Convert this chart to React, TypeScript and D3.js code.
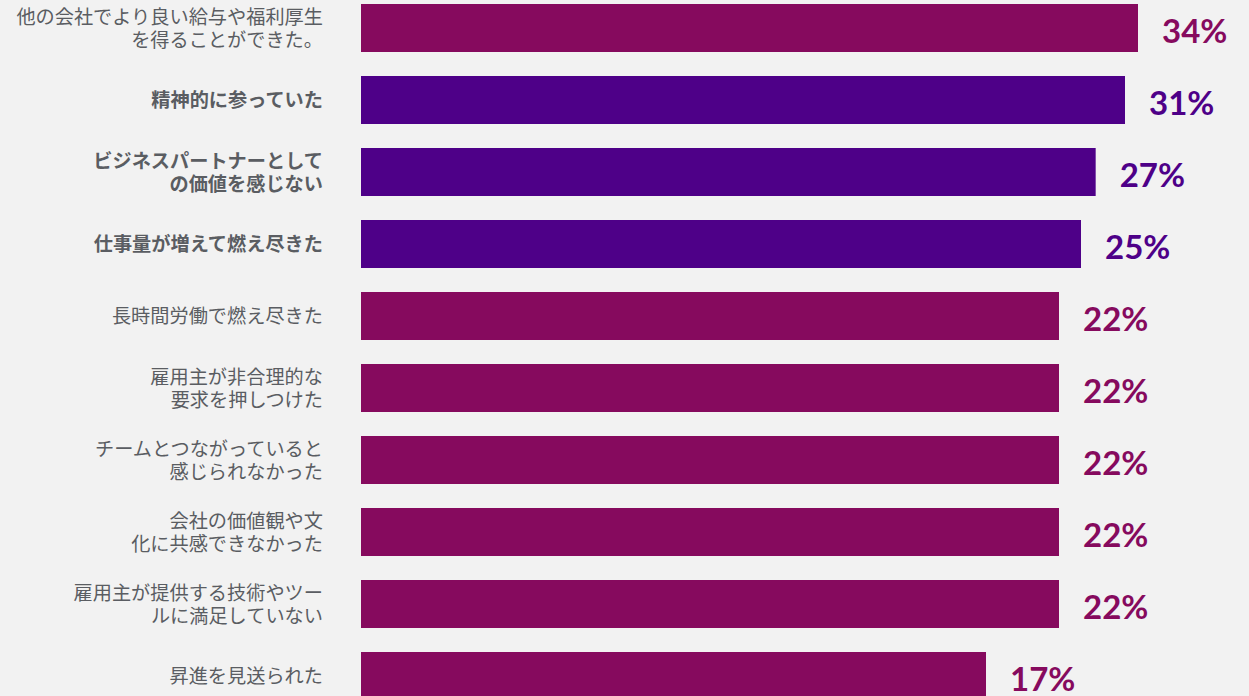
import React from "react";
import * as d3 from "d3";

const categories: string[] = [
  "他の会社でより良い給与や福利厚生\nを得ることができた。",
  "精神的に参っていた",
  "ビジネスパートナーとして\nの価値を感じない",
  "仕事量が増えて燃え尽きた",
  "長時間労働で燃え尽きた",
  "雇用主が非合理的な\n要求を押しつけた",
  "チームとつながっていると\n感じられなかった",
  "会社の価値観や文\n化に共感できなかった",
  "雇用主が提供する技術やツー\nルに満足していない",
  "昇進を見送られた",
];
const values: number[] = [34, 31, 27, 25, 22, 22, 22, 22, 22, 17];
const highlighted: boolean[] = [false, true, true, true, false, false, false, false, false, false];

const W = 1249;
const H = 696;
const MAGENTA = "#860A5E";
const PURPLE = "#4E0088";
const TEXT = "#5A5D62";

export default function App() {
  const x = d3.scaleLinear().domain([0, 17, 22, 31, 34]).range([361, 986, 1059, 1125, 1138]);
  const y = d3
    .scaleBand<number>()
    .domain(d3.range(categories.length))
    .range([-8, -8 + 72 * categories.length])
    .paddingInner(24 / 72)
    .paddingOuter(12 / 72);

  return (
    <svg
      width={W}
      height={H}
      style={{ position: "absolute", left: 0, top: 0, display: "block" }}
    >
      <rect x={0} y={0} width={W} height={H} fill="#F2F2F2" />
      {categories.map((c, i) => {
        const top = y(i)!;
        const bh = y.bandwidth();
        const cy = top + bh / 2;
        const color = highlighted[i] ? PURPLE : MAGENTA;
        const lines = c.split("\n");
        const lh = 23;
        const startY = cy - 1 - ((lines.length - 1) * lh) / 2;
        return (
          <g key={i}>
            <rect x={x(0)} y={top} width={x(values[i]) - x(0)} height={bh} fill={color} />
            <text
              textAnchor="end"
              fontFamily="'Noto Sans CJK JP', sans-serif"
              fontSize={19.2}
              fontWeight={highlighted[i] ? 700 : 400}
              fill={TEXT}
            >
              {lines.map((l, j) => (
                <tspan key={j} x={323} y={startY + j * lh} dominantBaseline="central">
                  {l}
                </tspan>
              ))}
            </text>
            <text
              x={x(values[i]) + 24}
              y={cy + 2}
              dominantBaseline="central"
              fontFamily="Lato, 'Noto Sans', sans-serif"
              fontWeight={700}
              fontSize={33}
              fill={color}
            >
              {values[i]}%
            </text>
          </g>
        );
      })}
    </svg>
  );
}
